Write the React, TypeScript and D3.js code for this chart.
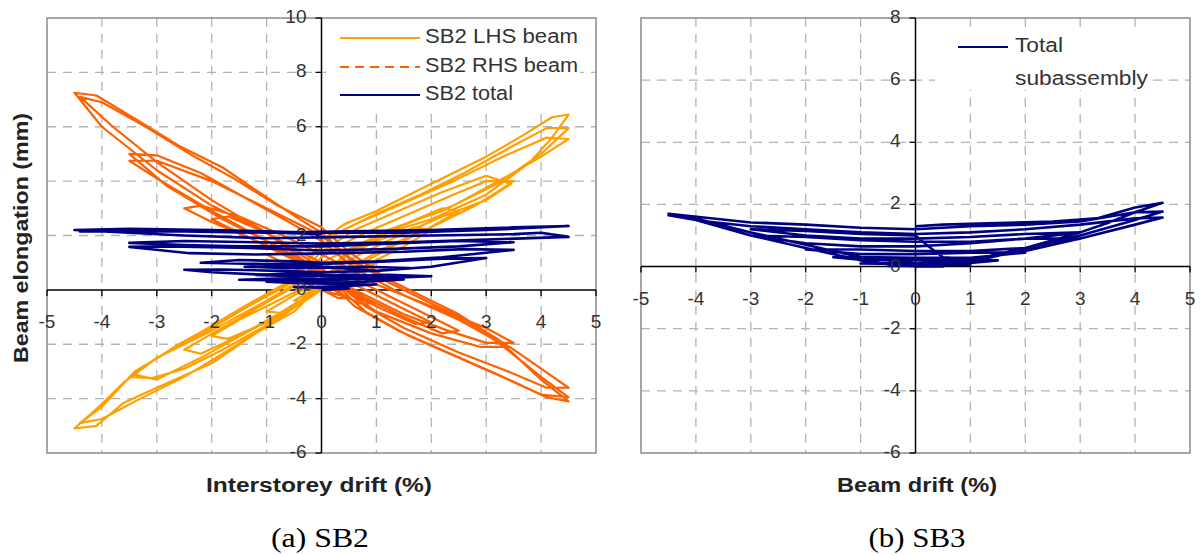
import React from "react";
import * as d3 from "d3";

type P = [number, number];

const driftTicks = [-5, -4, -3, -2, -1, 0, 1, 2, 3, 4, 5];
const elongTicksA = [-6, -4, -2, 0, 2, 4, 6, 8, 10];
const elongTicksB = [-6, -4, -2, 0, 2, 4, 6, 8];

const legendA = ["SB2 LHS beam", "SB2 RHS beam", "SB2 total"];
const legendB = ["Total", "subassembly"];

// SB2 LHS beam (drift %, elongation mm)
const sb2LhsBeam: P[] = [
  [0, 0], [0.5, 0.4], [0.3, 0.45], [0, 0.2], [-0.5, -0.4], [-0.3, -0.4], [0, 0],
  [0.5, 0.4], [1.0, 1.0], [0.7, 1.05], [0.3, 0.7], [0, 0.4], [-0.5, -0.2], [-1.0, -0.8], [-0.7, -0.85], [-0.3, -0.4], [0, 0],
  [0.5, 0.5], [1.0, 1.1], [1.5, 1.6], [2.0, 2.2], [1.7, 2.3], [1.0, 1.8], [0.4, 1.2], [0, 0.7],
  [-0.5, -0.1], [-1.0, -0.6], [-1.5, -1.1], [-2.0, -1.7], [-1.7, -1.8], [-1.0, -1.2], [-0.5, -0.6], [0, 0],
  [0.5, 0.7], [1.2, 1.5], [1.9, 2.2], [2.5, 2.9], [2.2, 3.0], [1.5, 2.4], [0.7, 1.7], [0, 1.0],
  [-0.6, 0.0], [-1.2, -0.7], [-1.9, -1.5], [-2.5, -2.2], [-2.2, -2.35], [-1.5, -1.7], [-0.8, -0.9], [0, 0.1],
  [0.5, 0.8], [1.2, 1.6], [2.0, 2.3], [2.8, 3.1], [3.2, 3.6], [3.5, 4.0], [3.0, 4.0], [2.4, 3.5], [1.6, 2.8], [0.8, 2.1], [0.3, 1.6], [0, 1.2],
  [-0.5, 0.2], [-1.0, -0.4], [-2.0, -1.5], [-3.0, -2.5], [-3.5, -3.2], [-3.1, -3.25], [-2.5, -2.9], [-1.8, -2.2], [-1.0, -1.3], [-0.4, -0.5], [0, 0.2],
  [0.4, 1.0], [1.2, 1.8], [2.2, 2.7], [3.0, 3.3], [3.45, 3.9], [3.0, 4.2], [2.2, 3.6], [1.4, 2.9], [0.6, 2.2], [0, 1.4],
  [-0.6, 0.2], [-1.6, -0.9], [-2.6, -2.0], [-3.45, -3.1], [-3.0, -3.3], [-2.2, -2.5], [-1.3, -1.5], [-0.5, -0.6], [0, 0.3],
  [0.4, 1.2], [1.2, 2.1], [2.0, 2.6], [3.0, 3.5], [3.8, 4.7], [4.2, 5.6], [4.5, 6.45], [4.2, 6.35], [3.6, 5.6], [3.0, 4.9], [2.0, 3.9], [1.0, 2.9], [0.4, 2.4], [0, 1.8],
  [-0.5, 0.4], [-1.0, -0.2], [-2.0, -1.4], [-3.0, -2.5], [-3.6, -3.4], [-4.0, -4.2], [-4.5, -5.1], [-4.1, -5.0], [-3.6, -4.15], [-3.0, -3.6], [-2.0, -2.7], [-1.2, -1.6], [-0.5, -0.8], [0, 0.2],
  [0.4, 1.3], [1.2, 2.2], [2.2, 2.9], [3.2, 3.9], [4.0, 5.0], [4.5, 5.95], [4.1, 5.95], [3.4, 5.2], [2.6, 4.3], [1.8, 3.5], [1.0, 2.8], [0.3, 2.1], [0, 1.6],
  [-0.6, 0.3], [-1.4, -0.6], [-2.4, -1.8], [-3.4, -3.0], [-4.0, -4.3], [-4.4, -4.9], [-4.0, -4.75], [-3.3, -4.0], [-2.5, -3.2], [-1.6, -2.1], [-0.8, -1.1], [0, 0.1],
  [0.5, 1.4], [1.4, 2.3], [2.4, 3.1], [3.4, 4.2], [4.0, 4.9], [4.5, 5.55], [4.1, 5.6], [3.3, 4.9], [2.4, 4.0], [1.5, 3.2], [0.7, 2.5], [0.2, 2.0],
];

// SB2 RHS beam
const sb2RhsBeam: P[] = [
  [0, 0], [0.5, -0.3], [0.3, -0.3], [0, 0.0], [-0.5, 0.45], [-0.3, 0.5], [0, 0.3],
  [0.5, -0.05], [1.0, -0.5], [0.7, -0.5], [0.3, -0.1], [0, 0.3], [-0.5, 0.8], [-1.0, 1.3], [-0.7, 1.35], [-0.3, 1.0], [0, 0.7],
  [0.5, 0.3], [1.0, -0.2], [1.5, -0.7], [2.0, -1.2], [1.7, -1.25], [1.1, -0.7], [0.5, -0.1], [0, 0.5],
  [-0.5, 1.1], [-1.0, 1.6], [-1.5, 2.1], [-2.0, 2.6], [-1.7, 2.7], [-1.0, 2.1], [-0.4, 1.4], [0, 1.0],
  [0.5, 0.5], [1.2, -0.2], [1.9, -0.9], [2.5, -1.5], [2.2, -1.6], [1.5, -1.0], [0.8, -0.3], [0, 0.6],
  [-0.6, 1.3], [-1.3, 1.9], [-2.0, 2.5], [-2.5, 3.0], [-2.2, 3.1], [-1.5, 2.7], [-0.7, 2.0], [0, 1.3],
  [0.5, 0.8], [1.0, 0.2], [2.0, -0.6], [3.0, -1.4], [3.5, -1.95], [3.0, -1.95], [2.3, -1.5], [1.5, -0.9], [0.7, -0.1], [0, 0.7],
  [-0.8, 1.6], [-1.8, 2.6], [-2.8, 3.8], [-3.5, 5.0], [-3.0, 4.95], [-2.2, 4.3], [-1.4, 3.4], [-0.6, 2.5], [0, 1.8],
  [0.6, 0.8], [1.5, -0.2], [2.5, -1.1], [3.4, -2.1], [2.9, -2.1], [2.0, -1.6], [1.0, -0.8], [0, 0.6],
  [-1.0, 1.8], [-2.0, 2.9], [-3.0, 4.1], [-3.5, 4.75], [-3.0, 4.75], [-2.0, 4.0], [-1.0, 3.0], [0, 2.0],
  [0.6, 1.0], [1.5, 0.1], [2.5, -0.9], [3.5, -2.2], [4.0, -2.9], [4.5, -3.6], [4.1, -3.6], [3.4, -3.0], [2.5, -2.3], [1.5, -1.4], [0.8, -0.6], [0.3, 0.2], [0, 0.8],
  [-1.0, 2.1], [-2.0, 3.1], [-3.0, 4.4], [-4.0, 6.0], [-4.5, 7.25], [-4.1, 7.15], [-3.4, 6.3], [-2.6, 5.3], [-1.8, 4.5], [-1.0, 3.4], [-0.4, 2.6], [0, 2.1],
  [0.5, 1.2], [1.2, 0.3], [2.2, -0.7], [3.2, -1.9], [4.0, -3.2], [4.5, -3.95], [4.0, -3.85], [3.2, -3.1], [2.3, -2.3], [1.4, -1.5], [0.6, -0.6], [0, 0.6],
  [-1.0, 2.1], [-2.0, 3.3], [-3.0, 4.7], [-3.8, 6.0], [-4.4, 7.1], [-4.0, 6.9], [-3.2, 6.0], [-2.4, 5.0], [-1.6, 4.1], [-0.8, 3.1], [0, 2.3],
  [0.5, 1.4], [1.2, 0.4], [2.2, -0.6], [3.2, -1.8], [4.0, -3.3], [4.5, -4.1], [4.1, -3.95], [3.4, -3.3], [2.5, -2.5], [1.6, -1.7], [0.8, -0.8], [0.2, 0.3],
];

// SB2 total
const sb2Total: P[] = [
  [0, 0], [0.5, 0.05], [0, 0.08], [-0.5, 0.1], [0, 0.1],
  [1.0, 0.2], [0.4, 0.22], [-0.4, 0.25], [-1.0, 0.3], [-0.3, 0.28], [0, 0.25],
  [0.8, 0.3], [1.5, 0.38], [0.7, 0.4], [0, 0.35], [-0.8, 0.35], [-1.5, 0.37], [-0.8, 0.42], [0, 0.4],
  [0.8, 0.45], [1.3, 0.5], [0.5, 0.55], [-0.5, 0.5], [-1.2, 0.55], [-0.5, 0.6], [0, 0.55],
  [1.0, 0.42], [2.0, 0.5], [1.2, 0.55], [0.3, 0.5], [-1.0, 0.55], [-2.0, 0.65], [-2.5, 0.74], [-1.8, 0.75], [-0.8, 0.7], [0, 0.65],
  [1.0, 0.7], [1.6, 0.8], [0.8, 0.85], [-0.6, 0.8], [-1.4, 0.85], [-0.6, 0.9], [0, 0.85],
  [1.0, 0.7], [2.0, 0.85], [3.0, 1.17], [2.2, 1.15], [1.2, 1.05], [0, 0.95], [-1.0, 0.95], [-2.2, 1.0], [-1.5, 1.1], [-0.5, 1.05], [0, 1.0],
  [1.0, 1.05], [2.2, 1.2], [3.5, 1.47], [2.6, 1.5], [1.5, 1.4], [0.3, 1.35], [-1.2, 1.3], [-2.4, 1.35], [-3.5, 1.58], [-2.8, 1.6], [-1.5, 1.55], [0, 1.45],
  [1.2, 1.5], [2.5, 1.6], [3.5, 1.75], [2.5, 1.8], [1.2, 1.7], [0, 1.6], [-1.5, 1.6], [-2.5, 1.65], [-3.5, 1.73], [-2.5, 1.8], [-1.2, 1.75], [0, 1.7],
  [1.5, 1.75], [3.0, 1.85], [4.5, 1.95], [4.0, 2.1], [3.5, 2.05], [2.0, 2.0], [0.5, 1.95], [-1.0, 1.9], [-2.5, 2.0], [-4.5, 2.2], [-3.5, 2.25], [-2.0, 2.2], [0, 2.1],
  [1.5, 2.1], [3.0, 2.2], [4.5, 2.35], [3.5, 2.3], [2.0, 2.2], [0.5, 2.15], [-1.0, 2.1], [-2.5, 2.15], [-4.4, 2.15], [-3.0, 2.2], [-1.5, 2.15], [0, 2.05],
];

// SB3 total subassembly
const sb3Total: P[] = [
  [0, 0], [0.5, 0.0], [0, 0.03], [-0.5, 0.02], [0, 0.04],
  [1.0, 0.06], [0.4, 0.08], [0, 0.08], [-1.0, 0.1], [-0.4, 0.12], [0, 0.1],
  [1.0, 0.12], [1.5, 0.2], [0.7, 0.22], [0, 0.2], [-1.0, 0.22], [-1.5, 0.3], [-0.7, 0.3], [0, 0.28],
  [1.0, 0.28], [2.0, 0.45], [1.0, 0.45], [0, 0.4], [-1.0, 0.4], [-2.0, 0.55], [-1.0, 0.55], [0, 0.5],
  [1.0, 0.5], [2.0, 0.6], [3.0, 0.9], [2.0, 0.9], [1.0, 0.75], [0, 0.65], [-1.0, 0.65], [-2.0, 0.75], [-3.0, 1.0], [-2.0, 0.95], [-1.0, 0.85], [0, 0.8],
  [1.0, 0.8], [2.0, 0.9], [3.0, 1.1], [2.0, 1.05], [1.0, 0.95], [0, 0.9], [-1.0, 0.9], [-2.0, 1.0], [-3.0, 1.2], [-2.0, 1.15], [-1.0, 1.05], [0, 1.0],
  [0.2, 0.7], [0.5, 0.3], [1.0, 0.25], [2.0, 0.5], [3.0, 0.9], [4.0, 1.35], [4.5, 1.58], [4.0, 1.55], [3.0, 1.35], [2.0, 1.2], [1.0, 1.1], [0, 1.05],
  [-1.0, 1.1], [-2.0, 1.2], [-3.0, 1.3], [-3.8, 1.45], [-4.5, 1.65], [-4.0, 1.5], [-3.0, 1.0], [-2.0, 0.6], [-1.0, 0.2], [-0.4, 0.05], [0, 0.05],
  [0.5, 0.05], [1.0, 0.15], [2.0, 0.55], [3.0, 1.0], [4.0, 1.5], [4.5, 1.77], [4.0, 1.75], [3.0, 1.45], [2.0, 1.35], [1.0, 1.3], [0, 1.2],
  [-1.0, 1.25], [-2.0, 1.35], [-3.0, 1.42], [-4.5, 1.7], [-4.0, 1.55], [-3.0, 1.1], [-2.0, 0.7], [-1.0, 0.3], [0, 0.1],
  [1.0, 0.2], [2.0, 0.6], [3.0, 1.1], [3.5, 1.4], [4.0, 1.75], [4.5, 2.05], [4.0, 1.9], [3.3, 1.55], [2.5, 1.45], [1.5, 1.4], [0.5, 1.35], [0, 1.3],
];

const C_LHS = "#FFA000";
const C_RHS = "#FF6000";
const C_NAVY = "#000080";
const GRID = "#b4b4b4";
const FRAME = "#8a8a8a";
const TXT = "#333333";
const SANS = "'Liberation Sans', Arial, sans-serif";
const SERIF = "'Liberation Serif', 'Times New Roman', serif";

function Panel(props: {
  x0: number; x1: number; top: number; bottom: number;
  yDomain: [number, number]; yTicks: number[];
  series: { data: P[]; color: string; width: number }[];
  legend: React.ReactNode;
}) {
  const { x0, x1, top, bottom, yDomain, yTicks, series, legend } = props;
  const xs = d3.scaleLinear().domain([-5, 5]).range([x0, x1]);
  const ys = d3.scaleLinear().domain(yDomain).range([bottom, top]);
  const line = d3.line<P>().x((d) => xs(d[0])).y((d) => ys(d[1]));
  const ax = xs(0);
  const ay = ys(0);
  return (
    <g>
      {yTicks
        .filter((t) => t !== 0 && t !== yDomain[0] && t !== yDomain[1])
        .map((t) => (
          <line key={"gy" + t} x1={x0} x2={x1} y1={ys(t)} y2={ys(t)} stroke={GRID} strokeWidth={1.3} strokeDasharray="9,7" />
        ))}
      {driftTicks
        .filter((t) => t !== 0 && t !== -5 && t !== 5)
        .map((t) => (
          <line key={"gx" + t} x1={xs(t)} x2={xs(t)} y1={top} y2={bottom} stroke={GRID} strokeWidth={1.3} strokeDasharray="9,7" />
        ))}
      <rect x={x0} y={top} width={x1 - x0} height={bottom - top} fill="none" stroke={FRAME} strokeWidth={1.5} />
      {legend}
      <line x1={x0} x2={x1} y1={ay} y2={ay} stroke="#000" strokeWidth={1.5} />
      <line x1={ax} x2={ax} y1={top} y2={bottom} stroke="#000" strokeWidth={1.5} />
      {driftTicks.map((t) => (
        <line key={"tx" + t} x1={xs(t)} x2={xs(t)} y1={ay} y2={ay + 6} stroke="#000" strokeWidth={1.3} />
      ))}
      {yTicks.map((t) => (
        <line key={"ty" + t} x1={ax - 6} x2={ax} y1={ys(t)} y2={ys(t)} stroke="#000" strokeWidth={1.3} />
      ))}
      {series.map((s, i) => (
        <path key={"s" + i} d={line(s.data) || ""} fill="none" stroke={s.color} strokeWidth={s.width} strokeLinejoin="round" />
      ))}
      {driftTicks.map((t) => (
        <text key={"lx" + t} x={xs(t)} y={ay + 33} textAnchor="middle" dominantBaseline="middle" fontFamily={SANS} fontSize={19} fill={TXT}>
          {t}
        </text>
      ))}
      {yTicks.map((t) => (
        <text key={"ly" + t} x={ax - 15} y={ys(t)} textAnchor="end" dominantBaseline="middle" fontFamily={SANS} fontSize={19} fill={TXT}>
          {t}
        </text>
      ))}
    </g>
  );
}

export default function App() {
  const legA = (
    <g>
      <rect x={326} y={19} width={254} height={93} fill="#fff" />
      <line x1={340} x2={420} y1={38} y2={38} stroke={C_LHS} strokeWidth={2} />
      <line x1={340} x2={420} y1={67} y2={67} stroke={C_RHS} strokeWidth={2} strokeDasharray="9,6" />
      <line x1={340} x2={420} y1={95} y2={95} stroke={C_NAVY} strokeWidth={2} />
      <text x={425} y={38} dominantBaseline="middle" fontFamily={SANS} fontSize={20} fill={TXT} textLength={153} lengthAdjust="spacingAndGlyphs">{legendA[0]}</text>
      <text x={425} y={67} dominantBaseline="middle" fontFamily={SANS} fontSize={20} fill={TXT} textLength={153} lengthAdjust="spacingAndGlyphs">{legendA[1]}</text>
      <text x={425} y={95} dominantBaseline="middle" fontFamily={SANS} fontSize={20} fill={TXT} textLength={88} lengthAdjust="spacingAndGlyphs">{legendA[2]}</text>
    </g>
  );
  const legB = (
    <g>
      <rect x={935} y={30} width={217} height={60} fill="#fff" />
      <line x1={958} x2={1008} y1={47} y2={47} stroke={C_NAVY} strokeWidth={2} />
      <text x={1015} y={47} dominantBaseline="middle" fontFamily={SANS} fontSize={20} fill={TXT} textLength={48} lengthAdjust="spacingAndGlyphs">{legendB[0]}</text>
      <text x={1015} y={80} dominantBaseline="middle" fontFamily={SANS} fontSize={20} fill={TXT} textLength={133} lengthAdjust="spacingAndGlyphs">{legendB[1]}</text>
    </g>
  );
  return (
    <svg width={1200} height={555} style={{ position: "absolute", left: 0, top: 0, background: "#fff" }}>
      <rect x={0} y={0} width={1200} height={555} fill="#fff" />
      <Panel
        x0={47} x1={596} top={18} bottom={453}
        yDomain={[-6, 10]} yTicks={elongTicksA}
        series={[
          { data: sb2LhsBeam, color: C_LHS, width: 2.2 },
          { data: sb2RhsBeam, color: C_RHS, width: 2.2 },
          { data: sb2Total, color: C_NAVY, width: 2.6 },
        ]}
        legend={legA}
      />
      <Panel
        x0={641} x1={1190} top={18} bottom={453}
        yDomain={[-6, 8]} yTicks={elongTicksB}
        series={[{ data: sb3Total, color: C_NAVY, width: 2.6 }]}
        legend={legB}
      />
      <text transform="translate(23,238) rotate(-90)" textAnchor="middle" dominantBaseline="middle" fontFamily={SANS} fontWeight="bold" fontSize={20} fill="#222" textLength={250} lengthAdjust="spacingAndGlyphs">
        Beam elongation (mm)
      </text>
      <text x={319} y={487} textAnchor="middle" dominantBaseline="middle" fontFamily={SANS} fontWeight="bold" fontSize={20} fill="#222" textLength={226} lengthAdjust="spacingAndGlyphs">
        Interstorey drift (%)
      </text>
      <text x={917} y={487} textAnchor="middle" dominantBaseline="middle" fontFamily={SANS} fontWeight="bold" fontSize={20} fill="#222" textLength={160} lengthAdjust="spacingAndGlyphs">
        Beam drift (%)
      </text>
      <text x={320} y={541} textAnchor="middle" dominantBaseline="middle" fontFamily={SERIF} fontSize={28} fill="#000" textLength={98} lengthAdjust="spacingAndGlyphs">
        (a) SB2
      </text>
      <text x={917} y={541} textAnchor="middle" dominantBaseline="middle" fontFamily={SERIF} fontSize={28} fill="#000" textLength={97} lengthAdjust="spacingAndGlyphs">
        (b) SB3
      </text>
    </svg>
  );
}
